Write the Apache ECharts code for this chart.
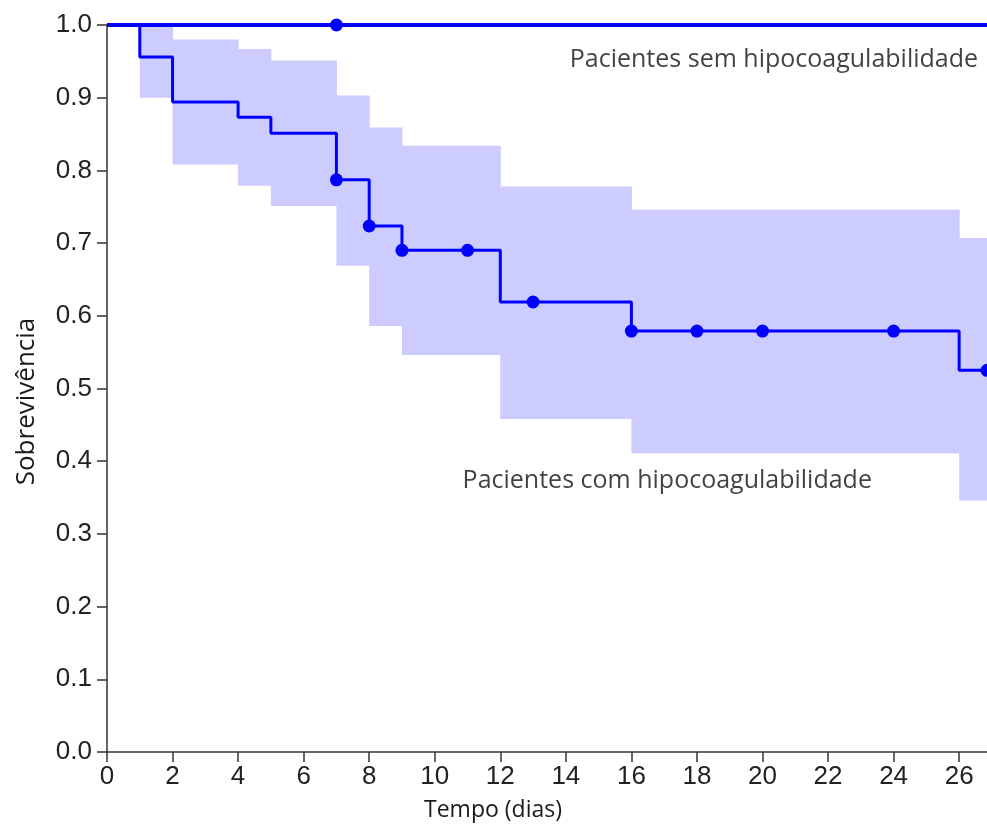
<!DOCTYPE html>
<html><head><meta charset="utf-8">
<script src="https://cdn.jsdelivr.net/npm/echarts@6/dist/echarts.min.js"></script>
<style>html,body{margin:0;padding:0;background:#fff}#c{width:987px;height:827px}</style>
</head><body><div id="c"></div>
<script>
// Kaplan-Meier step curve (com hipocoagulabilidade): [time, survival]
const kmTimes = [0, 1, 2, 4, 5, 7, 8, 9, 12, 16, 26, 26.85];
const kmSurv  = [1.0, 0.956, 0.894, 0.873, 0.851, 0.787, 0.7235, 0.690, 0.619, 0.579, 0.525, 0.525];
// Censored marks
const censTimes = [7, 8, 9, 11, 13, 16, 18, 20, 24, 26.85];
const censSurv  = [0.787, 0.7235, 0.690, 0.690, 0.619, 0.579, 0.579, 0.579, 0.579, 0.525];
// Confidence band segments: start, end, lower, upper
const bandStart = [1, 2, 4, 5, 7, 8, 9, 12, 16, 26];
const bandEnd   = [2, 4, 5, 7, 8, 9, 12, 16, 26, 26.85];
const bandLow   = [0.900, 0.808, 0.779, 0.751, 0.669, 0.586, 0.546, 0.458, 0.411, 0.346];
const bandHigh  = [1.000, 0.980, 0.967, 0.951, 0.903, 0.859, 0.834, 0.778, 0.746, 0.707];
// Sem hipocoagulabilidade
const semTimes = [0, 26.85];
const semSurv  = [1.0, 1.0];
const semCensTimes = [7];
const semCensSurv  = [1.0];
// Axis ticks
const xTicks = [0, 2, 4, 6, 8, 10, 12, 14, 16, 18, 20, 22, 24, 26];
// Annotations
const labelTexts = ['Pacientes sem hipocoagulabilidade', 'Pacientes com hipocoagulabilidade'];
const labelX = [14.12, 10.85];
const labelY = [0.952, 0.373];

const chart = echarts.init(document.getElementById('c'));
const axisColor = '#333';
chart.setOption({
  animation: false,
  grid: {left: 107, right: 0, top: 25, bottom: 75, containLabel: false},
  xAxis: {
    type: 'value', min: 0, max: 26.85,
    name: 'Tempo (dias)', nameLocation: 'middle', nameGap: 47,
    nameTextStyle: {fontFamily: 'Open Sans', fontSize: 23, color: '#1a1a1a', padding: [0, 108, 0, 0]},
    axisLine: {show: true, onZero: false, lineStyle: {color: axisColor, width: 1.5}},
    axisTick: {show: true, length: 10, customValues: xTicks, lineStyle: {color: axisColor, width: 1.5}},
    axisLabel: {customValues: xTicks, margin: 12, fontFamily: 'Liberation Sans', fontSize: 26, color: '#222'},
    splitLine: {show: false}
  },
  yAxis: {
    type: 'value', min: 0, max: 1, interval: 0.1,
    name: 'Sobrevivência', nameLocation: 'middle', nameGap: 67,
    nameTextStyle: {fontFamily: 'Open Sans', fontSize: 26, color: '#1a1a1a', padding: [0, 26, 0, 0]},
    axisLine: {show: true, onZero: false, lineStyle: {color: axisColor, width: 1.5}},
    axisTick: {show: true, length: 10, lineStyle: {color: axisColor, width: 1.5}},
    axisLabel: {margin: 15, fontFamily: 'Liberation Sans', fontSize: 26, color: '#222',
      formatter: v => v.toFixed(1)},
    splitLine: {show: false}
  },
  series: [
    {
      type: 'custom',
      data: bandStart.map((s, i) => [s, bandEnd[i], bandLow[i], bandHigh[i]]),
      renderItem: (params, api) => {
        const p0 = api.coord([api.value(0), api.value(3)]);
        const p1 = api.coord([api.value(1), api.value(2)]);
        return {type: 'rect', shape: {x: p0[0], y: p0[1], width: p1[0] - p0[0] + 0.5, height: p1[1] - p0[1]},
          style: {fill: '#ccccff'}};
      },
      clip: true, z: 1, silent: true
    },
    {
      type: 'line', step: 'end', symbol: 'none',
      data: kmTimes.map((t, i) => [t, kmSurv[i]]),
      lineStyle: {color: '#0000ff', width: 3}, z: 3
    },
    {
      type: 'scatter', symbolSize: 13, itemStyle: {color: '#0000ff', opacity: 1},
      data: censTimes.map((t, i) => [t, censSurv[i]]), z: 4
    },
    {
      type: 'line', symbol: 'none',
      data: semTimes.map((t, i) => [t, semSurv[i]]),
      lineStyle: {color: '#0000ff', width: 4}, z: 3, clip: false
    },
    {
      type: 'scatter', symbolSize: 13, itemStyle: {color: '#0000ff', opacity: 1},
      data: semCensTimes.map((t, i) => [t, semCensSurv[i]]), z: 4, clip: false
    },
    {
      type: 'scatter', symbolSize: 0, silent: true,
      data: labelTexts.map((s, i) => ({value: [labelX[i], labelY[i]], name: s})),
      label: {show: true, position: 'right', distance: 0, formatter: p => p.name,
        fontFamily: 'Open Sans', fontSize: 25, color: '#111'}
    }
  ]
});
</script></body></html>
